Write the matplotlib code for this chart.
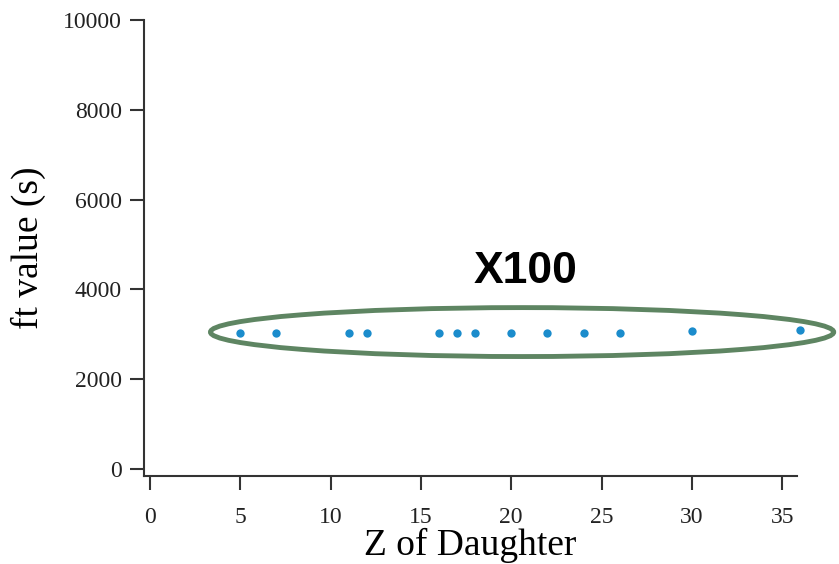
import matplotlib.pyplot as plt
from matplotlib.patches import Ellipse

z_daughter = [5, 7, 11, 12, 16, 17, 18, 20, 22, 24, 26, 30, 36]
ft_value = [3040, 3040, 3040, 3020, 3040, 3040, 3040, 3030, 3030, 3030, 3030, 3080, 3090]
x_ticks = [0, 5, 10, 15, 20, 25, 30, 35]
y_ticks = [0, 2000, 4000, 6000, 8000, 10000]

serif = 'Liberation Serif'

fig = plt.figure(figsize=(8.39, 5.64), dpi=100)
ax = fig.add_axes([0.1716, 0.156, 0.7784, 0.8085])

ax.plot(z_daughter, ft_value, 'o', color='#1b8ccc', markersize=6, markeredgewidth=0, clip_on=False)

ell = Ellipse((20.6, 3050), 34.5, 1090, fill=False, edgecolor='#5e8562', linewidth=3.5, clip_on=False)
ax.add_patch(ell)

ax.text(20.8, 4400, 'X100', family='Liberation Sans', fontweight='bold', fontsize=32,
        ha='center', va='center', color='black')

ax.set_xlim(-0.33, 35.82)
ax.set_ylim(-156, 10000)
ax.set_xticks(x_ticks)
ax.set_yticks(y_ticks)
for s in ['top', 'right']:
    ax.spines[s].set_visible(False)
for s in ['left', 'bottom']:
    ax.spines[s].set_linewidth(1.5)
    ax.spines[s].set_color('#333333')
ax.tick_params(direction='out', length=10, width=1.5, color='#333333', labelsize=17, pad=6)
ax.tick_params(axis='x', pad=12)
for lab in ax.get_xticklabels() + ax.get_yticklabels():
    lab.set_family(serif)
    lab.set_color('#222222')

ax.set_xlabel('Z of Daughter', family=serif, fontsize=27, labelpad=0)
ax.set_ylabel('ft value (s)', family=serif, fontsize=27, labelpad=12)

plt.savefig('out.png', dpi=100)
